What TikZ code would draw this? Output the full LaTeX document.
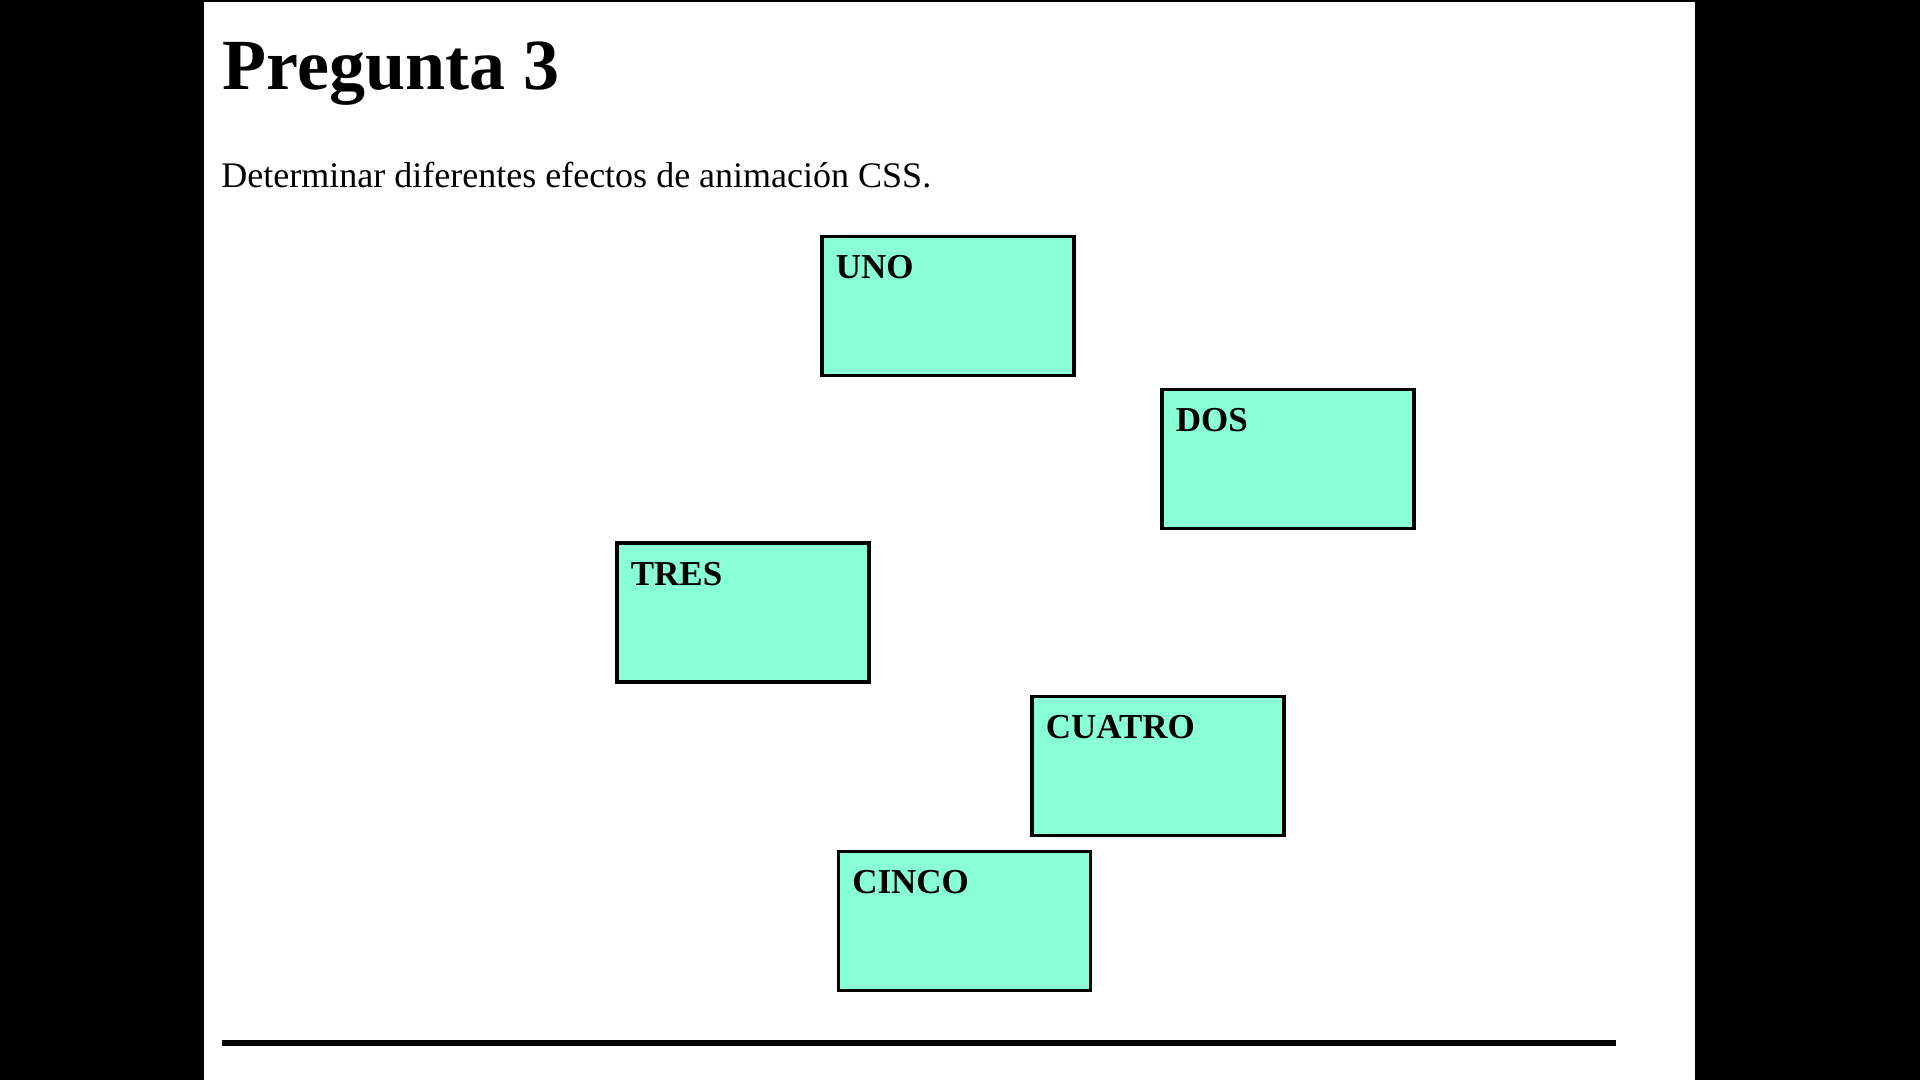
\documentclass[tikz,border=0pt]{standalone}
\usepackage{fontspec}
\setmainfont{Liberation Serif}
\definecolor{aguamarina}{RGB}{136,255,212}
\begin{document}
\begin{tikzpicture}[x=0.5pt,y=-0.5pt,
caja/.style={draw=black,fill=aguamarina,line width=1.6pt,
minimum width=126pt,minimum height=69.5pt,inner sep=0pt},
rotulo/.style={anchor=base west,inner sep=0pt,
font=\fontsize{17.5pt}{21pt}\selectfont\bfseries}]
\useasboundingbox (0,0) rectangle (1920,1080);
\fill[black] (0,0) rectangle (1920,1080);
\fill[white] (204,2) rectangle (1695,1080);
\node[anchor=base west,inner sep=0pt,
font=\fontsize{36pt}{40pt}\selectfont\bfseries] (titulo) at (222,90) {Pregunta 3};
\node[anchor=base west,inner sep=0pt,
font=\fontsize{18pt}{22pt}\selectfont] (texto) at (221,188)
{Determinar diferentes efectos de animación CSS.};
\node[caja] (uno) at (948,306) {};
\node[caja] (dos) at (1288,459) {};
\node[caja] (tres) at (743,612.5) {};
\node[caja] (cuatro) at (1158,766) {};
\node[caja] (cinco) at (964.5,921) {};
\node[rotulo] (luno) at ([shift={(15,44)}]uno.north west) {UNO};
\node[rotulo] (ldos) at ([shift={(15,44)}]dos.north west) {DOS};
\node[rotulo] (ltres) at ([shift={(15,44)}]tres.north west) {TRES};
\node[rotulo] (lcuatro) at ([shift={(15,44)}]cuatro.north west) {CUATRO};
\node[rotulo] (lcinco) at ([shift={(15,44)}]cinco.north west) {CINCO};
\coordinate (ini) at (222,1043);
\coordinate (fin) at (1616,1043);
\draw[line width=3pt] (ini)--(fin);
\end{tikzpicture}
\end{document}
